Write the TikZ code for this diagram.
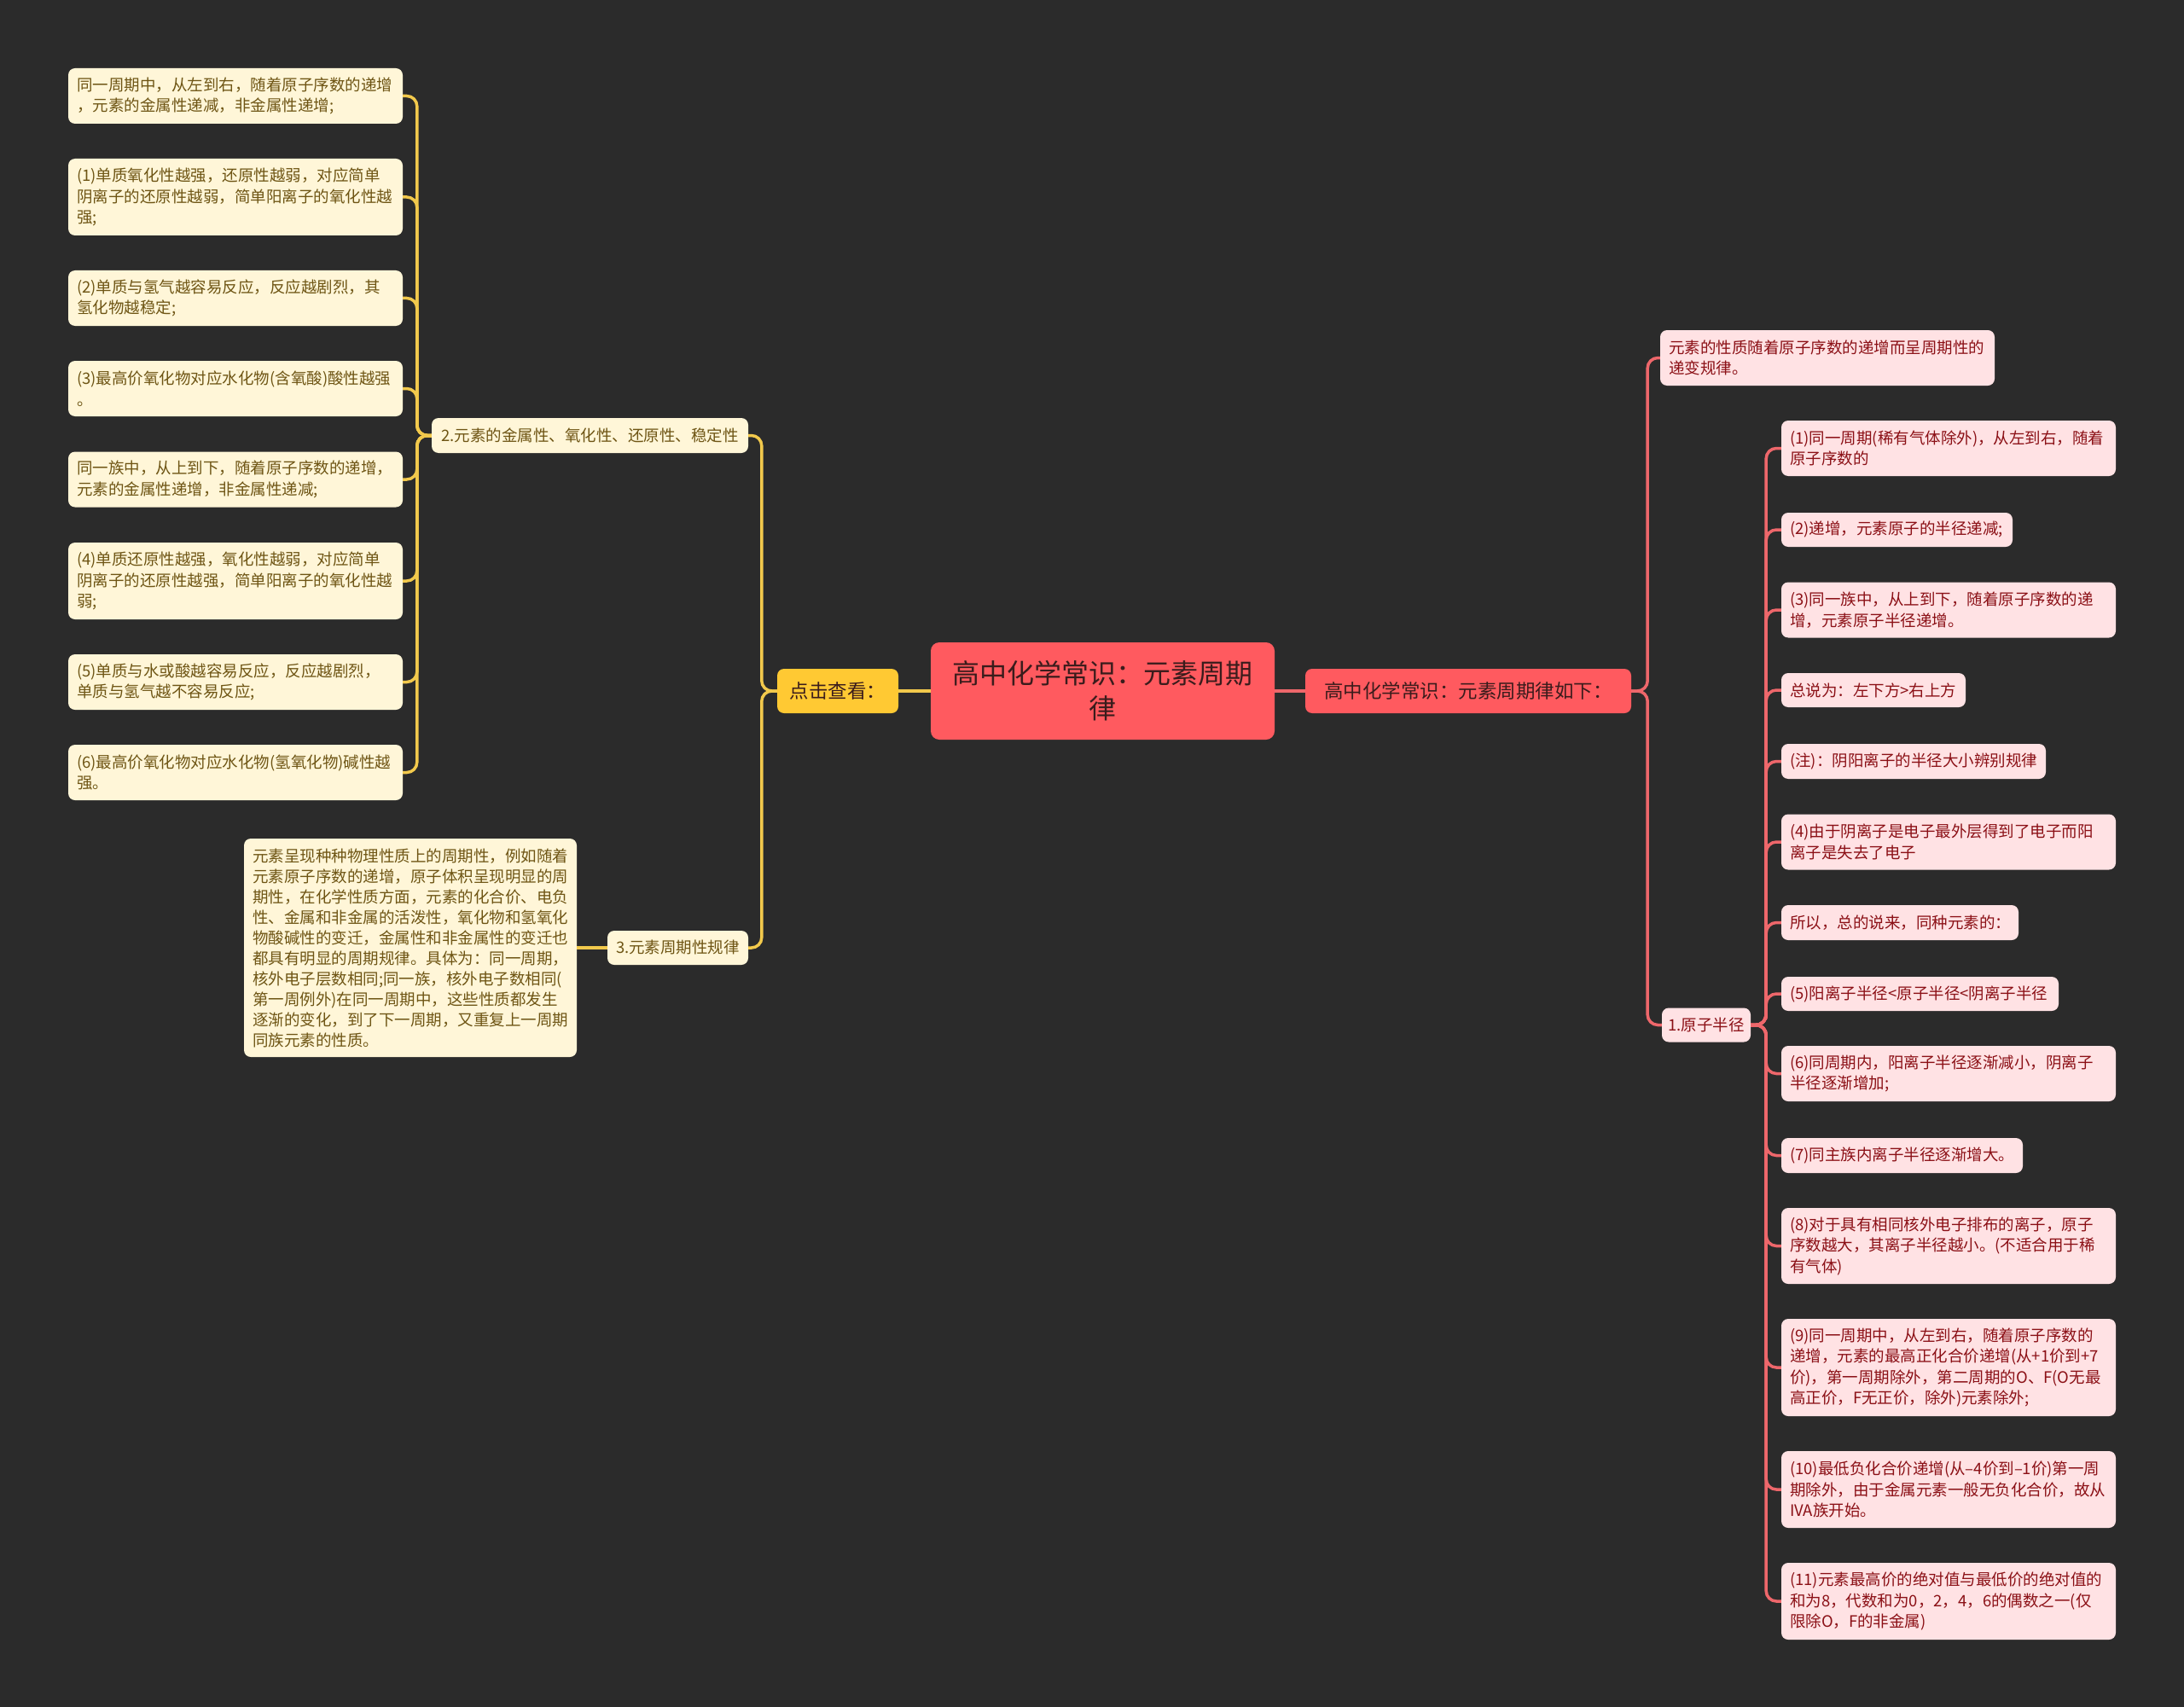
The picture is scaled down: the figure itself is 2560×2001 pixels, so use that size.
\documentclass[tikz,border=0pt]{standalone}
\usepackage{fontspec}
\setmainfont{Noto Sans CJK SC}
\definecolor{bgc}{HTML}{2B2B2B}
\definecolor{lfill}{HTML}{FFF6D8}
\definecolor{ltext}{HTML}{6E5514}
\definecolor{lline}{HTML}{F2C94C}
\definecolor{kfill}{HTML}{FFC933}
\definecolor{kfill}{HTML}{FFC933}
\definecolor{ctext}{HTML}{3A1C1C}
\definecolor{cfill}{HTML}{FF5A5F}
\definecolor{rline}{HTML}{EE676B}
\definecolor{rfill}{HTML}{FFE2E4}
\definecolor{rtext}{HTML}{8B1016}
\begin{document}
\begin{tikzpicture}[x=1pt,y=-1pt,
  base/.style={anchor=center, inner xsep=10pt, inner ysep=3pt, rounded corners=8pt},
  leafl/.style={base, fill=lfill, text=ltext, font=\fontsize{18.5}{24.5}\selectfont, align=left},
  leafr/.style={base, fill=rfill, text=rtext, font=\fontsize{18.5}{24.5}\selectfont, align=left},
  midl/.style={base, inner xsep=5pt, fill=lfill, text=ltext, font=\fontsize{18.5}{24.5}\selectfont, align=center},
  midr/.style={base, inner xsep=5pt, fill=rfill, text=rtext, font=\fontsize{18.5}{24.5}\selectfont, align=center},
  lconn/.style={draw=lline, line width=3.5pt, rounded corners=12pt},
  rconn/.style={draw=rline, line width=3.5pt, rounded corners=12pt}
]
\fill[bgc] (0,0) rectangle (2560,2001);
\useasboundingbox (0,0) rectangle (2560,2001);

% central and first level
\node[base, fill=cfill, text=ctext, minimum width=403pt, minimum height=114pt, rounded corners=10pt,
      font=\fontsize{32}{41}\selectfont, align=center] (C) at (1292.5,810) {高中化学常识：元素周期\\律};
\node[base, inner xsep=5pt, fill=kfill, text=ctext, minimum width=142pt, minimum height=52pt,
      font=\fontsize{22.5}{28}\selectfont] (K) at (982,810) {点击查看：};
\node[base, inner xsep=5pt, fill=cfill, text=ctext, minimum width=382pt, minimum height=52pt,
      font=\fontsize{22.5}{28}\selectfont] (RM) at (1721,810) {高中化学常识：元素周期律如下：};

% left second level
\node[midl, minimum width=371pt, minimum height=41pt] (P2) at (691.5,510.5) {2.元素的金属性、氧化性、还原性、稳定性};
\node[midl, minimum width=165pt, minimum height=40pt] (P3) at (794.5,1111) {3.元素周期性规律};

% left leaves
\node[leafl, text width=372pt, minimum height=65pt] (L1) at (276,112.5) {同一周期中，从左到右，随着原子序数的递增\\，元素的金属性递减，非金属性递增;};
\node[leafl, text width=372pt, minimum height=90pt] (L2) at (276,231) {(1)单质氧化性越强，还原性越弱，对应简单\\阴离子的还原性越弱，简单阳离子的氧化性越\\强;};
\node[leafl, text width=372pt, minimum height=65pt] (L3) at (276,349.5) {(2)单质与氢气越容易反应，反应越剧烈，其\\氢化物越稳定;};
\node[leafl, text width=372pt, minimum height=65pt] (L4) at (276,455.5) {(3)最高价氧化物对应水化物(含氧酸)酸性越强\\。};
\node[leafl, text width=372pt, minimum height=65pt] (L5) at (276,562) {同一族中，从上到下，随着原子序数的递增，\\元素的金属性递增，非金属性递减;};
\node[leafl, text width=372pt, minimum height=90pt] (L6) at (276,681) {(4)单质还原性越强，氧化性越弱，对应简单\\阴离子的还原性越强，简单阳离子的氧化性越\\弱;};
\node[leafl, text width=372pt, minimum height=65pt] (L7) at (276,799.5) {(5)单质与水或酸越容易反应，反应越剧烈，\\单质与氢气越不容易反应;};
\node[leafl, text width=372pt, minimum height=65pt] (L8) at (276,905.5) {(6)最高价氧化物对应水化物(氢氧化物)碱性越\\强。};

\node[leafl, text width=370pt, minimum height=256pt, font=\fontsize{18.5}{24}\selectfont] (T) at (481,1111) {元素呈现种种物理性质上的周期性，例如随着\\元素原子序数的递增，原子体积呈现明显的周\\期性，在化学性质方面，元素的化合价、电负\\性、金属和非金属的活泼性，氧化物和氢氧化\\物酸碱性的变迁，金属性和非金属性的变迁也\\都具有明显的周期规律。具体为：同一周期，\\核外电子层数相同;同一族，核外电子数相同(\\第一周例外)在同一周期中，这些性质都发生\\逐渐的变化，到了下一周期，又重复上一周期\\同族元素的性质。};

% right second level
\node[leafr, text width=372pt, minimum height=65pt] (RT) at (2142,419.5) {元素的性质随着原子序数的递增而呈周期性的\\递变规律。};
\node[midr, minimum width=104pt, minimum height=40pt] (A1) at (2000,1201.5) {1.原子半径};

% right leaves
\node[leafr, text width=372pt, minimum height=65pt] (R1) at (2284,525.5) {(1)同一周期(稀有气体除外)，从左到右，随着\\原子序数的};
\node[leafr, text width=251pt, minimum height=40pt] (R2) at (2223.5,621) {(2)递增，元素原子的半径递减;};
\node[leafr, text width=372pt, minimum height=65pt] (R3) at (2284,715) {(3)同一族中，从上到下，随着原子序数的递\\增，元素原子半径递增。};
\node[leafr, text width=196pt, minimum height=40pt] (R4) at (2196,809) {总说为：左下方>右上方};
\node[leafr, text width=290pt, minimum height=41pt] (R5) at (2243,892.5) {(注)：阴阳离子的半径大小辨别规律};
\node[leafr, text width=372pt, minimum height=65pt] (R6) at (2284,987) {(4)由于阴离子是电子最外层得到了电子而阳\\离子是失去了电子};
\node[leafr, text width=258pt, minimum height=41pt] (R7) at (2227,1081.5) {所以，总的说来，同种元素的：};
\node[leafr, text width=305pt, minimum height=40pt] (R8) at (2250.5,1165) {(5)阳离子半径<原子半径<阴离子半径};
\node[leafr, text width=372pt, minimum height=65pt] (R9) at (2284,1258.5) {(6)同周期内，阳离子半径逐渐减小，阴离子\\半径逐渐增加;};
\node[leafr, text width=263pt, minimum height=41pt] (R10) at (2229.5,1354.5) {(7)同主族内离子半径逐渐增大。};
\node[leafr, text width=372pt, minimum height=89pt] (R11) at (2284,1460.5) {(8)对于具有相同核外电子排布的离子，原子\\序数越大，其离子半径越小。(不适合用于稀\\有气体)};
\node[leafr, text width=372pt, minimum height=114pt] (R12) at (2284,1603) {(9)同一周期中，从左到右，随着原子序数的\\递增，元素的最高正化合价递增(从+1价到+7\\价)，第一周期除外，第二周期的O、F(O无最\\高正价，F无正价，除外)元素除外;};
\node[leafr, text width=372pt, minimum height=90pt] (R13) at (2284,1746) {(10)最低负化合价递增(从–4价到–1价)第一周\\期除外，由于金属元素一般无负化合价，故从\\IVA族开始。};
\node[leafr, text width=372pt, minimum height=90pt] (R14) at (2284,1877) {(11)元素最高价的绝对值与最低价的绝对值的\\和为8，代数和为0，2，4，6的偶数之一(仅\\限除O，F的非金属)};

% connectors
\draw[lconn] (C.west) -- (K.east);
\draw[rconn] (C.east) -- (RM.west);
\foreach \c in {P2,P3} \draw[lconn] (K.west) -- ++(-18,0) |- (\c.east);
\foreach \c in {L1,L2,L3,L4,L5,L6,L7,L8} \draw[lconn] (P2.west) -- ++(-17,0) |- (\c.east);
\draw[lconn] (P3.west) -- (T.east);
\foreach \c in {RT,A1} \draw[rconn] (RM.east) -- ++(19,0) |- (\c.west);
\foreach \c in {R1,R2,R3,R4,R5,R6,R7,R8,R9,R10,R11,R12,R13,R14} \draw[rconn] (A1.east) -- ++(18,0) |- (\c.west);
\end{tikzpicture}
\end{document}
